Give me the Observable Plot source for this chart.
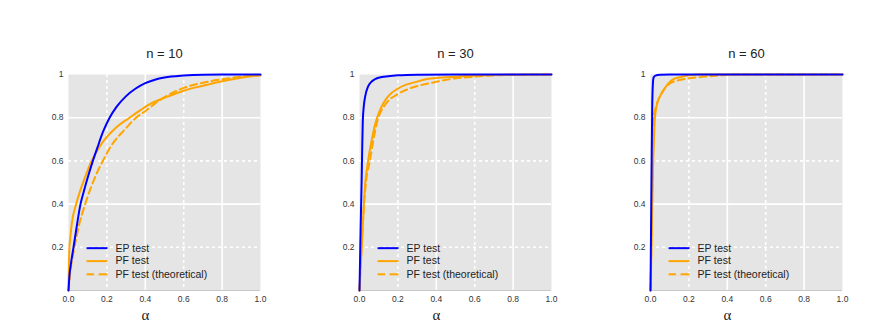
<!DOCTYPE html>
<html>
<head>
<meta charset="utf-8">
<script src="https://cdn.jsdelivr.net/npm/d3@7"></script>
<script src="https://cdn.jsdelivr.net/npm/@observablehq/plot@0.6"></script>
<style>
  html, body { margin: 0; padding: 0; background: #ffffff; }
  #chart { position: relative; width: 872px; height: 333px; background: #ffffff; }
  #chart > svg { position: absolute; top: 0; }
</style>
</head>
<body>
<div id="chart"></div>
<script>
// ---- data: [alpha, power] pairs ----
const sampleSizes = [10, 30, 60];

const ep10 = [[0,0],[0.005,0.07],[0.012,0.12],[0.026,0.2],[0.04,0.28],[0.0625,0.4],[0.08,0.46],[0.104,0.535],[0.127,0.6],[0.15,0.66],[0.18,0.735],[0.214,0.8],[0.25,0.85],[0.3,0.9],[0.35,0.935],[0.4,0.96],[0.45,0.976],[0.5,0.986],[0.6,0.995],[0.7,0.999],[0.8,1],[1,1]];
const pf10 = [[0,0],[0.002,0.12],[0.005,0.2],[0.01,0.25],[0.017,0.31],[0.04,0.4],[0.06,0.46],[0.087,0.526],[0.118,0.595],[0.15,0.648],[0.179,0.688],[0.24,0.748],[0.318,0.8],[0.375,0.835],[0.43,0.866],[0.5,0.892],[0.6,0.925],[0.7,0.948],[0.8,0.969],[0.9,0.985],[1,0.997]];
const pfth10 = [[0,0],[0.01,0.09],[0.031,0.2],[0.057,0.31],[0.087,0.4],[0.139,0.526],[0.179,0.6],[0.23,0.68],[0.29,0.742],[0.352,0.8],[0.4,0.83],[0.45,0.865],[0.5,0.895],[0.6,0.938],[0.7,0.962],[0.8,0.978],[0.9,0.99],[1,0.997]];

const ep30 = [[0,0],[0.004,0.2],[0.008,0.38],[0.011,0.5],[0.014,0.65],[0.017,0.78],[0.022,0.85],[0.03,0.9],[0.045,0.945],[0.06,0.965],[0.08,0.978],[0.1,0.985],[0.15,0.992],[0.2,0.996],[0.3,0.999],[0.5,1],[1,1]];
const pf30 = [[0,0],[0.005,0.1],[0.012,0.2],[0.02,0.35],[0.03,0.5],[0.04,0.57],[0.05,0.63],[0.06,0.68],[0.07,0.725],[0.08,0.765],[0.09,0.795],[0.1,0.82],[0.12,0.86],[0.15,0.9],[0.2,0.935],[0.24,0.952],[0.3,0.967],[0.34,0.977],[0.4,0.984],[0.5,0.99],[0.6,0.995],[0.77,0.999],[1,1]];
const pfth30 = [[0,0],[0.006,0.12],[0.012,0.22],[0.02,0.35],[0.035,0.51],[0.054,0.6],[0.073,0.7],[0.095,0.79],[0.134,0.86],[0.2,0.91],[0.26,0.935],[0.325,0.952],[0.4,0.966],[0.446,0.975],[0.5,0.982],[0.6,0.99],[0.7,0.996],[0.8,0.999],[1,1]];

const ep60 = [[0,0],[0.003,0.3],[0.006,0.6],[0.009,0.85],[0.012,0.95],[0.016,0.985],[0.025,0.995],[0.05,0.999],[0.1,1],[1,1]];
const pf60 = [[0,0],[0.004,0.15],[0.007,0.3],[0.01,0.45],[0.014,0.6],[0.018,0.7],[0.023,0.8],[0.035,0.866],[0.05,0.9],[0.07,0.93],[0.09,0.955],[0.113,0.975],[0.14,0.985],[0.165,0.99],[0.2,0.996],[0.25,1],[1,1]];
const pfth60 = [[0,0],[0.004,0.18],[0.008,0.38],[0.012,0.6],[0.017,0.8],[0.025,0.84],[0.035,0.87],[0.05,0.9],[0.07,0.93],[0.104,0.96],[0.165,0.977],[0.27,0.989],[0.35,0.995],[0.45,1],[1,1]];

const alphaTicks = [0, 0.2, 0.4, 0.6, 0.8, 1.0];
const powerTicks = [0.2, 0.4, 0.6, 0.8, 1.0];
const solidGrid = [0.4, 0.8];
const dottedGrid = [0.2, 0.6];
const legendLabels = ["EP test", "PF test", "PF test (theoretical)"];

// ---- layout / style constants ----
const BLUE = "#0000ff", ORANGE = "#ffa500";
const legendRowY = [0.196, 0.136, 0.075];        // axes-fraction rows
const legendLineX = [0.094, 0.203];
const legendTextX = 0.245;
const legendStrokes = [BLUE, ORANGE, ORANGE];
const SANS = "'Liberation Sans', Arial, Helvetica, sans-serif";

const panelData = [
  {n: sampleSizes[0], ep: ep10, pf: pf10, th: pfth10},
  {n: sampleSizes[1], ep: ep30, pf: pf30, th: pfth30},
  {n: sampleSizes[2], ep: ep60, pf: pf60, th: pfth60}
];

const container = document.getElementById("chart");
const lefts = [0, 291, 582];
const X = d => d[0], Y = d => d[1];

panelData.forEach((p, i) => {
  const svg = Plot.plot({
    width: 291,
    height: 333,
    marginLeft: 68,
    marginRight: 31,
    marginTop: 74,
    marginBottom: 43,
    style: {fontFamily: SANS, color: "#333", background: "transparent", overflow: "visible"},
    x: {domain: [0, 1]},
    y: {domain: [0, 1]},
    marks: [
      Plot.frame({fill: "#e5e5e5", stroke: null}),
      Plot.ruleY([0], {stroke: "#c8c8c8", strokeWidth: 1}),
      Plot.ruleX(solidGrid, {stroke: "#ffffff", strokeWidth: 1.6}),
      Plot.ruleY(solidGrid, {stroke: "#ffffff", strokeWidth: 1.6}),
      Plot.ruleX(dottedGrid, {stroke: "#ffffff", strokeWidth: 1.6, strokeDasharray: "3,3"}),
      Plot.ruleY(dottedGrid, {stroke: "#ffffff", strokeWidth: 1.6, strokeDasharray: "3,3"}),
      Plot.axisX({ticks: alphaTicks, tickSize: 0, tickPadding: 5, tickFormat: d3.format(".1f"), fontSize: 8.5, fontFamily: SANS, label: null}),
      Plot.axisY({ticks: powerTicks, tickSize: 0, tickPadding: 5, tickFormat: d => d === 1 ? "1" : d.toFixed(1), fontSize: 8.5, fontFamily: SANS, label: null}),
      Plot.line(p.th, {x: X, y: Y, stroke: ORANGE, strokeWidth: 2, strokeDasharray: "7,4", curve: "monotone-x"}),
      Plot.line(p.pf, {x: X, y: Y, stroke: ORANGE, strokeWidth: 2, curve: "monotone-x"}),
      Plot.line(p.ep, {x: X, y: Y, stroke: BLUE, strokeWidth: 2, curve: "monotone-x"}),
      // legend
      Plot.link(legendLabels, {
        x1: () => legendLineX[0], x2: () => legendLineX[1],
        y1: (d, j) => legendRowY[j], y2: (d, j) => legendRowY[j],
        stroke: (d, j) => legendStrokes[j], strokeWidth: 2
      }),
      Plot.link(legendLabels.slice(2), {
        x1: () => legendLineX[0], x2: () => legendLineX[1],
        y1: () => legendRowY[2], y2: () => legendRowY[2],
        stroke: "#e5e5e5", strokeWidth: 3, strokeDasharray: "0,7.5,4.5,100"
      }),
      Plot.text(legendLabels, {
        x: () => legendTextX, y: (d, j) => legendRowY[j], text: d => d,
        textAnchor: "start", lineAnchor: "middle", fontSize: 10.5, fontFamily: SANS, fill: "#222"
      }),
      // title and x label
      Plot.text([`n = ${p.n}`], {frameAnchor: "top", lineAnchor: "middle", dy: -21, fontSize: 13, fontFamily: SANS, fill: "#222"}),
      Plot.text(["α"], {frameAnchor: "bottom", lineAnchor: "middle", dx: -19, dy: 25, fontSize: 15, fill: "#222", fontFamily: "'Liberation Serif', 'DejaVu Serif', serif"})
    ]
  });
  svg.style.left = lefts[i] + "px";
  container.appendChild(svg);
});
</script>
</body>
</html>
